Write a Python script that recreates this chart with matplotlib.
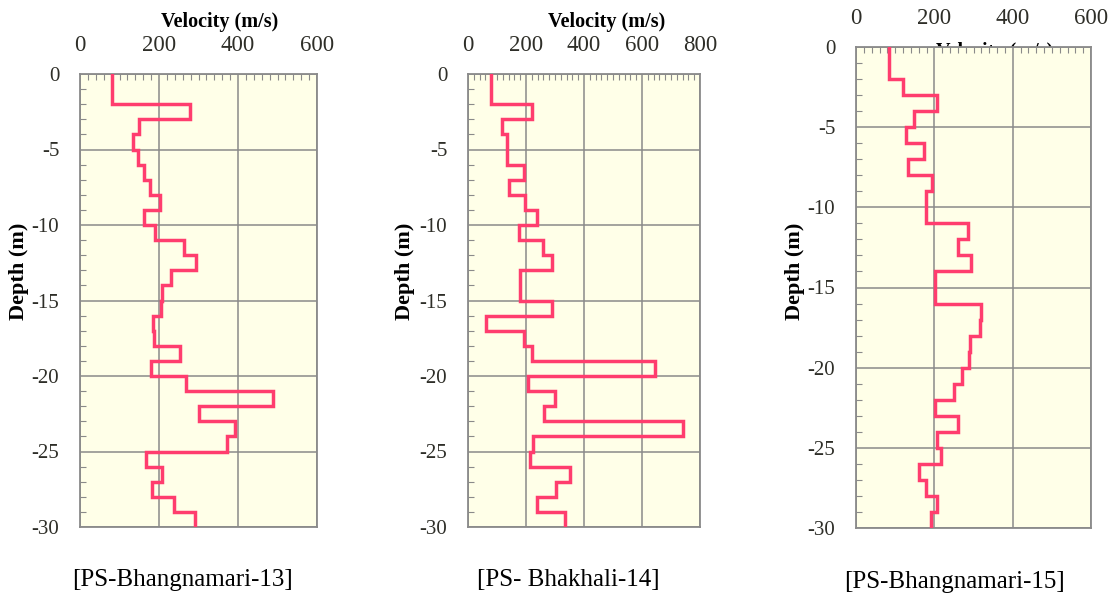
import numpy as np
import matplotlib
matplotlib.use("Agg")
import matplotlib.pyplot as plt
from matplotlib.ticker import MultipleLocator

plt.rcParams['font.family'] = ['Liberation Serif', 'DejaVu Serif']
plt.rcParams['axes.unicode_minus'] = False

# depth boundaries (m), 1 m layers from 0 to 30
depth = np.arange(0, 31)

# shear wave velocity (m/s) for each 1 m layer
vs_13 = [80, 80, 278, 150, 133, 147, 163, 177, 202, 163, 190, 263, 293, 230, 208,
         204, 185, 188, 253, 181, 269, 489, 301, 392, 371, 166, 208, 183, 238, 291]
vs_14 = [80, 80, 220, 117, 136, 136, 193, 142, 196, 239, 176, 259, 288, 181, 178,
         291, 63, 193, 222, 644, 207, 301, 261, 740, 224, 215, 353, 305, 238, 336]
vs_15 = [83, 83, 121, 208, 149, 127, 174, 132, 195, 178, 178, 287, 260, 293, 202,
         202, 320, 317, 292, 288, 270, 251, 201, 260, 208, 217, 162, 179, 207, 191]

names = ["[PS-Bhangnamari-13]", "[PS- Bhakhali-14]", "[PS-Bhangnamari-15]"]
profiles = [vs_13, vs_14, vs_15]
xmax = [600, 800, 600]

W, H = 1116, 599
fig = plt.figure(figsize=(W / 100, H / 100), dpi=100)

# axes boxes in pixels: left, top, right, bottom
boxes = [(80, 74, 317, 527), (468, 74, 700, 527), (856, 47, 1091, 528)]
xlabel_pos = [(220, 22), (607, 22), (995, 52)]
ylabel_pos = [(19, 271), (405, 271), (795, 271)]
caption_pos = [(182, 580), (568, 580), (954, 582)]

grey = '#8a8a8a'
pink = '#ff3d6e'
tick_col = '#2e2e28'

for i in range(3):
    l, t, r, b = boxes[i]
    ax = fig.add_axes([l / W, 1 - b / H, (r - l) / W, (b - t) / H])
    ax.set_facecolor('#ffffe8')

    v = np.array(profiles[i])
    xs = np.repeat(v, 2)
    ys = -np.column_stack([depth[:-1], depth[1:]]).ravel()
    ax.plot(xs, ys, color=pink, lw=2.5, solid_joinstyle='miter', zorder=3)

    ax.set_xlim(0, xmax[i])
    ax.set_ylim(-30, 0)
    ax.xaxis.set_major_locator(MultipleLocator(200))
    ax.xaxis.set_minor_locator(MultipleLocator(20))
    ax.yaxis.set_major_locator(MultipleLocator(5))
    ax.yaxis.set_minor_locator(MultipleLocator(1))
    ax.xaxis.tick_top()
    ax.grid(True, which='major', color=grey, lw=1.1)
    ax.tick_params(axis='x', which='major', length=0, pad=13, labelsize=16.5, labelcolor=tick_col)
    ax.tick_params(axis='y', which='major', length=0, pad=15, labelsize=15, labelcolor=tick_col)
    ax.tick_params(which='minor', direction='in', length=4.5, width=0.8, color=grey)
    ax.tick_params(axis='y', which='minor', left=True, right=False)
    ax.tick_params(axis='x', which='minor', top=True, bottom=False)
    for s in ax.spines.values():
        s.set_color(grey)
        s.set_linewidth(1.3)

    x, y = xlabel_pos[i]
    fig.text(x / W, 1 - y / H, "Velocity (m/s)", ha='center', va='center',
             fontsize=14.5, fontweight='bold', zorder=-1)
    x, y = ylabel_pos[i]
    fig.text(x / W, 1 - y / H, "Depth (m)", ha='center', va='center', rotation=90,
             fontsize=16, fontweight='bold')
    x, y = caption_pos[i]
    fig.text(x / W, 1 - y / H, names[i], ha='center', va='center', fontsize=18)

fig.savefig("out.png", dpi=100, facecolor='white')
